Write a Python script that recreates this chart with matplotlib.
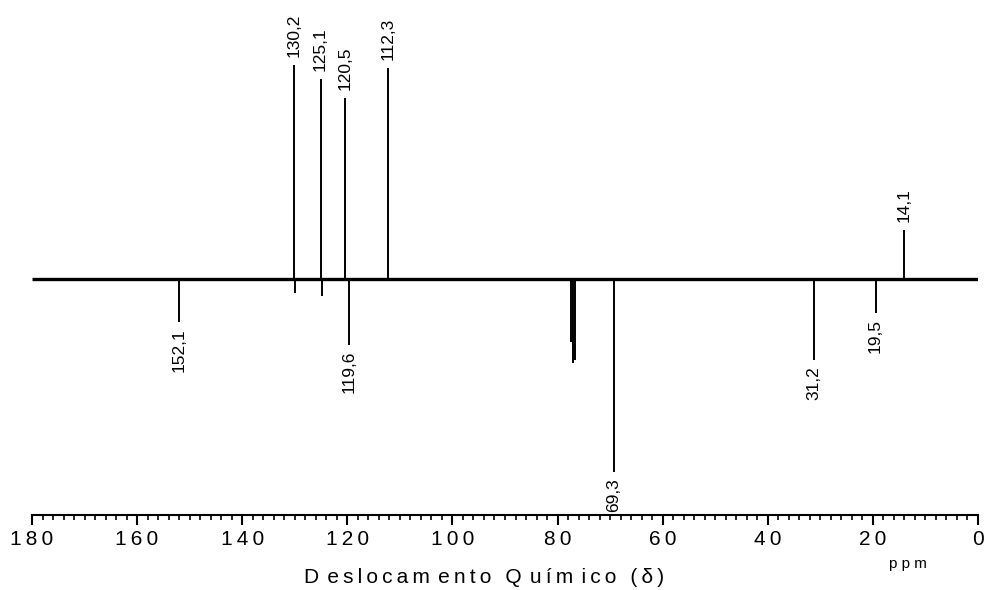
import matplotlib
matplotlib.use("Agg")
import matplotlib.pyplot as plt
from matplotlib.ticker import FixedLocator, FixedFormatter, MultipleLocator

plt.rcParams['font.family'] = ['Liberation Sans', 'DejaVu Sans']

# ---------------- data ----------------
# spectral window (ppm) for the baseline
baseline_ppm = [180.0, 0.0]
baseline_int = [0.0, 0.0]

# stick peaks (ppm, relative intensity; negative = inverted)
peak_ppm = [152.1, 130.2, 130.0, 125.1, 124.9, 120.5, 119.6, 112.3,
            77.4, 77.0, 76.7, 69.3, 31.2, 19.5, 14.1]
peak_int = [-43, 214, -14, 200, -17, 181, -66, 211,
            -63, -84, -81, -193, -81, -34, 49]

# labelled peaks
label_ppm = [130.2, 125.1, 120.5, 112.3, 14.1, 152.1, 119.6, 69.3, 31.2, 19.5]
label_int = [214, 200, 181, 211, 49, -43, -66, -193, -81, -34]

# axis ticks
tick_values = [180, 160, 140, 120, 100, 80, 60, 40, 20, 0]
x_title = "Deslocamento Químico (δ)"
unit_label = "ppm"

# ---------------- helpers ----------------
TS = "\u2009"


def spaced(s, sep=TS):
    return sep.join(list(s))


def title_spaced(s):
    out = []
    for i, ch in enumerate(s):
        out.append(ch)
        if i < len(s) - 1:
            out.append(TS)
            if ch in "DmQ":
                out.append(TS)
    return "".join(out)


# ---------------- figure ----------------
fig = plt.figure(figsize=(9.84, 5.9), dpi=100)
ax = fig.add_axes([32 / 984, 75 / 590, 946 / 984, 515 / 590])

ax.plot(baseline_ppm, baseline_int, color="black", lw=2.4, solid_capstyle="butt")
ax.vlines(peak_ppm, 0, peak_int, color="black", lw=1.4)

for p, v in zip(label_ppm, label_int):
    txt = f"{p:.1f}".replace(".", ",")
    if v > 0:
        ax.text(p, v + 8, txt, rotation=90, ha="center", va="bottom", fontsize=12.5)
    else:
        ax.text(p, v - 6, txt, rotation=90, ha="center", va="top", fontsize=12.5)

ax.set_xlim(180, 0)
ax.set_ylim(-236, 279)

for s in ["top", "right", "left"]:
    ax.spines[s].set_visible(False)
ax.spines["bottom"].set_linewidth(1.5)
ax.set_yticks([])

ax.xaxis.set_major_locator(FixedLocator(tick_values))
ax.xaxis.set_major_formatter(FixedFormatter([spaced(str(t)) for t in tick_values]))
ax.xaxis.set_minor_locator(MultipleLocator(2))
ax.tick_params(axis="x", which="major", direction="out", length=7, width=1.5,
               pad=3.5, labelsize=15)
ax.tick_params(axis="x", which="minor", direction="out", length=3.6, width=1.2)

fig.text(484.5 / 984, 7 / 590, title_spaced(x_title), ha="center", va="baseline",
         fontsize=15)
fig.text(907.5 / 984, 22 / 590, " ".join(unit_label), ha="center", va="baseline",
         fontsize=11)

fig.savefig("out.png", dpi=100)
